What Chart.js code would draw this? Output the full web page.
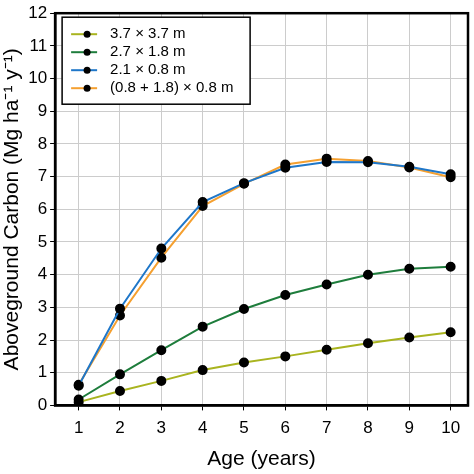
<!DOCTYPE html>
<html>
<head>
<script src="https://cdn.jsdelivr.net/npm/chart.js@4"></script>
<style>
  body { margin: 0; background: #fff; }
  #wrap { width: 474px; height: 474px; }
</style>
</head>
<body>
<div id="wrap"><canvas id="carbonChart"></canvas></div>
<script>
const ages = [1, 2, 3, 4, 5, 6, 7, 8, 9, 10];
const seriesNames = ['3.7 × 3.7 m', '2.7 × 1.8 m', '2.1 × 0.8 m', '(0.8 + 1.8) × 0.8 m'];
const wide = [0.1, 0.44, 0.75, 1.08, 1.31, 1.5, 1.7, 1.9, 2.08, 2.24];
const medium = [0.18, 0.95, 1.69, 2.41, 2.95, 3.38, 3.7, 4.0, 4.18, 4.24];
const narrow = [0.6, 2.96, 4.8, 6.22, 6.8, 7.27, 7.45, 7.44, 7.3, 7.07];
const mixed = [0.63, 2.75, 4.52, 6.1, 6.78, 7.37, 7.55, 7.48, 7.28, 6.98];
const colors = ['#a9b41f', '#1e7d3c', '#1f77c9', '#f5a030'];

const ctx = document.getElementById('carbonChart').getContext('2d');
const FONT = '"Liberation Sans", Arial, sans-serif';

const legendBox = {
    id: 'legendBox',
    afterDraw(chart) {
        const c = chart.ctx;
        const x = chart.chartArea.left + 7, y = chart.chartArea.top + 4;
        c.save();
        c.fillStyle = '#fff';
        c.fillRect(x, y, 188, 87);
        c.strokeStyle = '#000';
        c.lineWidth = 1.5;
        c.strokeRect(x, y, 188, 87);
        c.font = '15px ' + FONT;
        c.textBaseline = 'middle';
        chart.data.datasets.forEach((ds, i) => {
            const ly = y + 17 + i * 18;
            c.strokeStyle = ds.borderColor;
            c.lineWidth = 2;
            c.beginPath(); c.moveTo(x + 9, ly); c.lineTo(x + 35, ly); c.stroke();
            c.fillStyle = '#000';
            c.beginPath(); c.arc(x + 25, ly, 3.5, 0, Math.PI * 2); c.fill();
            c.fillText(ds.label, x + 48, ly);
        });
        c.restore();
    }
};

const series = [wide, medium, narrow, mixed];
const chart = new Chart(ctx, {
    type: 'line',
    data: {
        datasets: series.map((vals, i) => ({
            label: seriesNames[i],
            data: ages.map((a, j) => ({ x: a, y: vals[j] })),
            borderColor: colors[i],
            borderWidth: 2,
            pointBackgroundColor: '#000',
            pointBorderColor: '#000',
            pointRadius: 4,
            tension: 0
        }))
    },
    options: {
        responsive: true,
        maintainAspectRatio: false,
        animation: false,
        layout: { padding: { top: 6, right: 6, bottom: 2 } },
        plugins: { legend: { display: false }, tooltip: { enabled: false } },
        scales: {
            x: {
                type: 'linear', min: 0.43, max: 10.42,
                afterBuildTicks: (axis) => { axis.ticks = ages.map(v => ({ value: v })); },
                grid: { color: '#ccc', borderDash: [2, 2], drawTicks: true, tickColor: '#000', tickLength: 5 },
                border: { color: '#000', width: 2.5 },
                ticks: { color: '#000', padding: 8, font: { size: 17, family: FONT } },
                title: { display: true, text: 'Age (years)', color: '#000', font: { size: 21, family: FONT }, padding: 0 }
            },
            y: {
                min: 0, max: 12,
                ticks: { stepSize: 1, color: '#000', font: { size: 17, family: FONT } },
                grid: { color: '#ccc', borderDash: [2, 2], tickColor: '#000', tickLength: 5 },
                border: { color: '#000', width: 2.5 },
                title: { display: true, text: 'Aboveground Carbon (Mg ha⁻¹ y⁻¹)', color: '#000', font: { size: 21, family: FONT }, padding: 0 }
            }
        }
    },
    plugins: [legendBox, {
        id: 'frame',
        afterDraw(chart) {
            const a = chart.chartArea, c = chart.ctx;
            c.save(); c.strokeStyle = '#000'; c.lineWidth = 2.5;
            c.strokeRect(a.left, a.top, a.right - a.left, a.bottom - a.top);
            c.restore();
        }
    }]
});
</script>
</body>
</html>
